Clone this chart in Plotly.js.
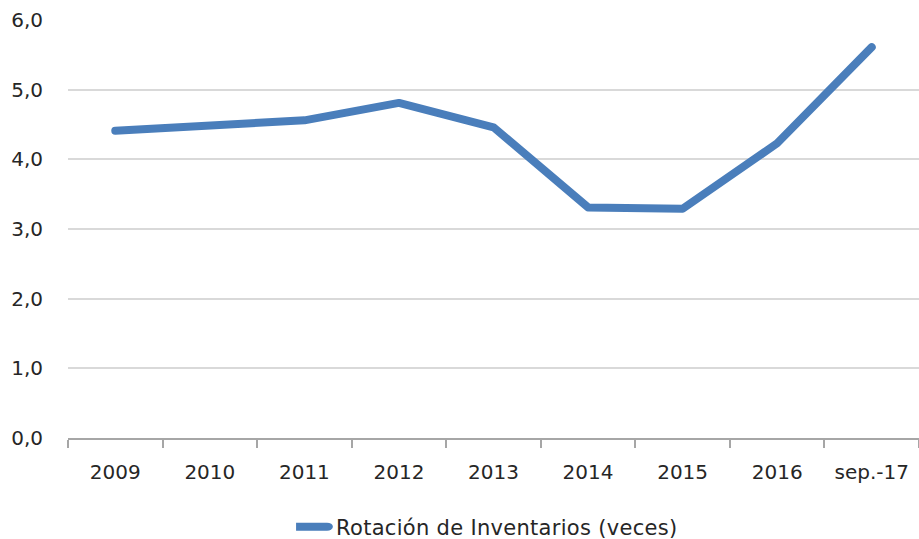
<!DOCTYPE html>
<html>
<head>
<meta charset="utf-8">
<script src="https://cdn.plot.ly/plotly-3.0.1.min.js"></script>
<style>
html,body{margin:0;padding:0;background:#fff;}
#chart{width:919px;height:539px;}
path.js-line{stroke-linecap:round;stroke-linejoin:round;}
.legendtext{letter-spacing:0.3px;}
.legend g.legendlines path{transform:translateX(-19.75px) scaleX(1.45);}
</style>
</head>
<body>
<div id="chart"></div>
<script>
var categories = ["2009","2010","2011","2012","2013","2014","2015","2016","sep.-17"];
var rotacion = [4.41, 4.49, 4.56, 4.81, 4.46, 3.31, 3.29, 4.23, 5.61];
var seriesName = "Rotación de Inventarios (veces)";
var yTickVals = [0,1,2,3,4,5,6];
var yTickText = ["0,0","1,0","2,0","3,0","4,0","5,0","6,0"];

var trace = {
  x: categories,
  y: rotacion,
  type: "scatter",
  mode: "lines",
  name: seriesName,
  line: {color: "#4a7ebb", width: 8, shape: "linear"},
  showlegend: true
};

var layout = {
  width: 919, height: 539,
  margin: {l: 68, r: 0, t: 20, b: 101, autoexpand: false},
  paper_bgcolor: "#ffffff",
  plot_bgcolor: "#ffffff",
  font: {family: "DejaVu Sans, Verdana, sans-serif", size: 20, color: "#262626"},
  xaxis: {
    type: "category",
    range: [-0.5, 8.5],
    tickson: "boundaries",
    ticks: "outside",
    ticklen: 8,
    tickwidth: 2,
    tickcolor: "#a6a6a6",
    showline: true,
    linecolor: "#a6a6a6",
    linewidth: 2,
    showgrid: false,
    zeroline: false,
    ticklabelstandoff: 15,
    automargin: false,
    fixedrange: true
  },
  yaxis: {
    range: [0, 6],
    tickvals: yTickVals,
    ticktext: yTickText,
    showgrid: true,
    gridcolor: "#d9d9d9",
    gridwidth: 2,
    zeroline: false,
    showline: false,
    ticks: "",
    ticklabelstandoff: 24,
    automargin: false,
    fixedrange: true
  },
  showlegend: true,
  legend: {
    orientation: "h",
    x: 0.268, xanchor: "left",
    y: -0.213, yanchor: "middle",
    font: {family: "DejaVu Sans, Verdana, sans-serif", size: 21, color: "#262626"},
    bgcolor: "rgba(0,0,0,0)"
  }
};

Plotly.newPlot("chart", [trace], layout, {displayModeBar: false, staticPlot: true});
</script>
</body>
</html>
